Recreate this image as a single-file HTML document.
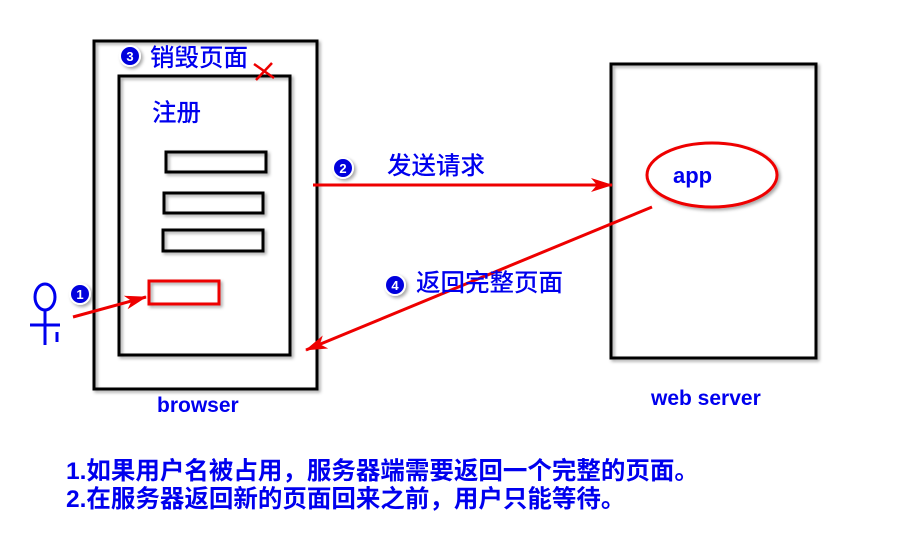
<!DOCTYPE html>
<html><head><meta charset="utf-8"><style>
html,body{margin:0;padding:0;background:#fff;width:897px;height:543px;overflow:hidden}
svg{display:block}
text{font-family:"Liberation Sans","Noto Sans CJK SC",sans-serif}
.cn{font-family:"Noto Sans CJK SC",sans-serif;fill:#0000ee;font-size:24.5px;font-weight:500}
</style></head><body>
<svg width="897" height="543" viewBox="0 0 897 543">
<defs>
<filter id="sh" x="-10%" y="-10%" width="130%" height="130%"><feDropShadow dx="2" dy="2" stdDeviation="1.5" flood-color="#000" flood-opacity="0.35"/></filter>
<marker id="ah" markerWidth="22" markerHeight="14" refX="21" refY="7" orient="auto" markerUnits="userSpaceOnUse"><path d="M0,0 L22,7 L0,14 L6,7 Z" fill="#ee0000"/></marker>
</defs>
<g filter="url(#sh)" fill="none" stroke="#000" stroke-width="3">
<rect x="94" y="41" width="223" height="348"/>
<rect x="119" y="76" width="171" height="279"/>
<rect x="166" y="152" width="100" height="20"/>
<rect x="164" y="193" width="99" height="20"/>
<rect x="163" y="230" width="100" height="21"/>
<rect x="611" y="64" width="205" height="294"/>
<rect x="149" y="281" width="70" height="23" stroke="#ee0000"/>
<ellipse cx="712" cy="175" rx="65" ry="32" stroke="#ee0000" fill="#fff"/>
</g>
<path d="M254,64 L274,78 M256,80 L272,63" stroke="#ee0000" stroke-width="2.5"/>
<g stroke="#0000ee" stroke-width="3" fill="none">
<ellipse cx="45" cy="297" rx="10" ry="13"/>
<line x1="45" y1="310" x2="45" y2="345"/>
<line x1="30" y1="325" x2="60" y2="325"/>
<line x1="57" y1="332" x2="57" y2="342"/>
</g>
<g stroke="#ee0000" stroke-width="3" fill="none">
<line x1="73" y1="317" x2="146" y2="297" marker-end="url(#ah)"/>
<line x1="313" y1="185" x2="612" y2="185" marker-end="url(#ah)"/>
<line x1="652" y1="207" x2="306" y2="350" marker-end="url(#ah)"/>
</g>
<g filter="url(#sh)">
<circle cx="130" cy="56" r="10" fill="#0000dd" stroke="#fff" stroke-width="2"/>
<circle cx="80" cy="294" r="10" fill="#0000dd" stroke="#fff" stroke-width="2"/>
<circle cx="343" cy="168" r="10" fill="#0000dd" stroke="#fff" stroke-width="2"/>
<circle cx="395" cy="285" r="10" fill="#0000dd" stroke="#fff" stroke-width="2"/>
</g>
<g fill="#fff" font-size="13" font-weight="bold" text-anchor="middle">
<text x="130" y="61">3</text><text x="80" y="299">1</text><text x="343" y="173">2</text><text x="395" y="290">4</text>
</g>
<text class="cn" x="150" y="66">销毁页面</text>
<text class="cn" x="152" y="121">注册</text>
<text class="cn" x="387" y="174">发送请求</text>
<text class="cn" x="416" y="291">返回完整页面</text>
<text x="673" y="183" font-size="22" font-weight="bold" fill="#0000ee">app</text>
<text x="157" y="412" font-size="21" font-weight="bold" fill="#0000ee">browser</text>
<text x="651" y="405" font-size="21" font-weight="bold" fill="#0000ee">web server</text>
<text x="66" y="479" font-size="24.5" font-weight="bold" fill="#0000ee">1.如果用户名被占用，服务器端需要返回一个完整的页面。</text>
<text x="66" y="507" font-size="24.5" font-weight="bold" fill="#0000ee">2.在服务器返回新的页面回来之前，用户只能等待。</text>
</svg>
</body></html>
